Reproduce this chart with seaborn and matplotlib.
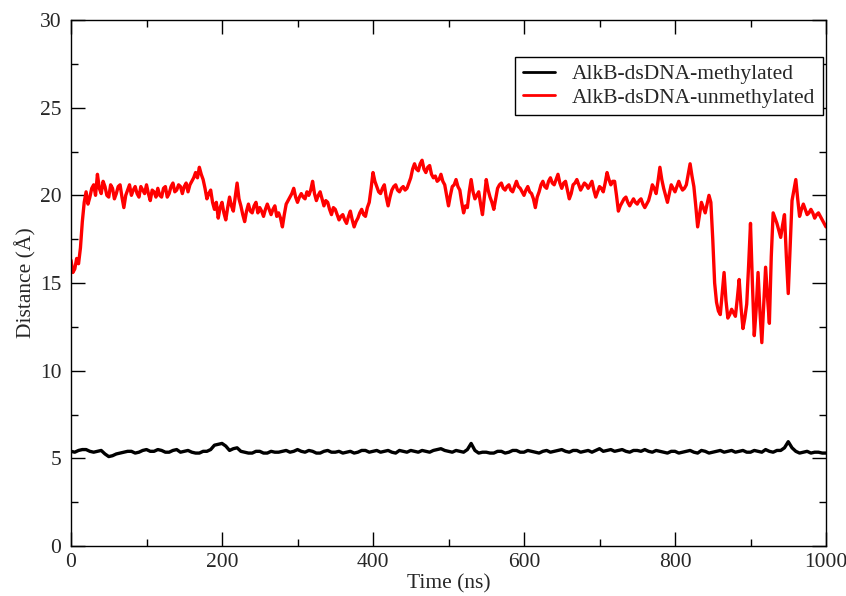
import numpy as np
import pandas as pd
import matplotlib
matplotlib.use("Agg")
import matplotlib.pyplot as plt
import seaborn as sns

# red trace: distance (A) every 5 ns
time_red = list(range(0, 1001, 5))
unmethylated = [
    16.3, 15.8, 16.1, 18.5, 20.2, 19.9, 20.6, 21.2, 20.1, 20.5,
    19.9, 20.4, 20.1, 20.6, 19.3, 20.3, 20.0, 20.5, 19.9, 20.3,
    20.6, 19.7, 20.2, 20.4, 19.9, 20.5, 20.1, 20.7, 20.3, 20.5,
    20.5, 20.2, 20.8, 21.3, 21.6, 20.9, 19.8, 20.3, 19.2, 18.7,
    19.6, 18.6, 19.9, 19.1, 20.7, 19.4, 18.5, 19.5, 19.0, 19.6,
    19.3, 18.8, 19.5, 18.9, 19.4, 19.0, 18.2, 19.5, 19.9, 20.4,
    19.6, 20.1, 19.8, 20.0, 20.8, 19.7, 20.2, 19.4, 19.6, 18.9,
    19.2, 18.6, 18.9, 18.4, 19.1, 18.2, 18.7, 19.2, 18.8, 19.6,
    21.3, 20.5, 20.1, 20.6, 19.4, 20.3, 20.6, 20.2, 20.5, 20.4,
    21.0, 21.8, 21.4, 22.0, 21.3, 21.7, 21.0, 20.8, 21.2, 20.6,
    19.4, 20.5, 20.9, 20.3, 19.0, 19.3, 20.9, 19.8, 20.2, 18.9,
    20.9, 19.9, 19.2, 20.4, 20.7, 20.3, 20.6, 20.2, 20.8, 20.4,
    20.0, 20.5, 20.1, 19.3, 20.2, 20.8, 20.4, 21.0, 20.6, 21.2,
    20.4, 20.8, 19.8, 20.6, 20.9, 20.3, 20.7, 20.4, 20.8, 19.9,
    20.5, 20.2, 21.3, 20.6, 20.8, 19.1, 19.6, 19.9, 19.4, 19.8,
    19.5, 19.8, 19.3, 19.7, 20.6, 20.1, 21.6, 20.4, 19.6, 20.6,
    20.2, 20.8, 20.3, 20.6, 21.8, 20.5, 18.2, 19.6, 19.0, 20.0,
    17.5, 13.9, 13.2, 15.6, 13.0, 13.5, 13.1, 15.2, 12.4, 13.8,
    18.4, 12.0, 15.6, 11.6, 15.9, 12.7, 19.0, 18.4, 17.6, 18.9,
    14.4, 19.7, 20.9, 18.8, 19.5, 18.9, 19.2, 18.7, 19.0, 18.6,
    18.2,
]
# in-between frames (2.5, 7.5, ... 997.5 ns)
time_red_mid = list(np.arange(2.5, 1000, 5))
unmethylated_mid = [
    15.6, 16.4, 17.0, 19.6, 19.5, 20.4, 20.0, 20.4, 20.8, 20.0,
    20.6, 19.8, 20.5, 19.9, 20.0, 20.6, 20.3, 20.1, 20.5, 20.1,
    20.1, 20.3, 19.9, 20.0, 20.4, 19.9, 20.5, 20.2, 20.6, 20.1,
    20.7, 20.6, 21.0, 21.0, 21.2, 20.4, 20.1, 19.6, 19.6, 19.3,
    19.0, 19.3, 19.4, 19.9, 19.8, 18.9, 19.1, 19.1, 19.4, 19.0,
    19.1, 19.2, 19.2, 19.2, 18.8, 18.7, 18.9, 19.7, 20.1, 19.9,
    19.9, 19.9, 20.2, 20.3, 20.1, 20.0, 19.8, 19.7, 19.2, 19.3,
    18.9, 18.8, 18.6, 18.8, 18.6, 18.5, 19.0, 18.9, 19.3, 20.4,
    20.8, 20.2, 20.4, 19.9, 19.9, 20.5, 20.3, 20.4, 20.3, 20.7,
    21.5, 21.5, 21.8, 21.5, 21.6, 21.2, 21.1, 20.9, 20.8, 20.0,
    20.0, 20.6, 20.5, 19.6, 19.4, 20.2, 20.2, 20.0, 19.5, 19.9,
    20.3, 19.6, 19.8, 20.6, 20.4, 20.5, 20.3, 20.5, 20.5, 20.2,
    20.3, 20.2, 19.8, 19.9, 20.6, 20.5, 20.8, 20.7, 20.9, 20.7,
    20.7, 20.3, 20.1, 20.7, 20.6, 20.5, 20.6, 20.6, 20.3, 20.2,
    20.4, 20.7, 20.9, 20.8, 20.0, 19.4, 19.8, 19.6, 19.6, 19.6,
    19.7, 19.5, 19.5, 20.1, 20.4, 20.8, 20.9, 20.0, 20.1, 20.4,
    20.5, 20.5, 20.4, 21.2, 21.1, 19.4, 18.9, 19.3, 19.5, 19.6,
    15.0, 13.4, 14.4, 14.0, 13.2, 13.3, 14.1, 13.6, 13.0, 16.0,
    15.0, 13.5, 13.4, 13.8, 14.2, 16.5, 18.7, 18.0, 18.3, 16.5,
    17.0, 20.3, 19.8, 19.2, 19.2, 19.0, 19.0, 18.9, 18.8, 18.4,
]

# black trace: distance (A) every 10 ns
time_black = list(range(0, 1001, 10))
methylated = [
    5.4, 5.45, 5.5, 5.35, 5.45, 5.1, 5.25, 5.35, 5.4, 5.35,
    5.5, 5.4, 5.45, 5.35, 5.5, 5.4, 5.35, 5.3, 5.4, 5.75,
    5.85, 5.45, 5.6, 5.35, 5.3, 5.4, 5.3, 5.35, 5.4, 5.35,
    5.5, 5.35, 5.4, 5.3, 5.45, 5.35, 5.3, 5.4, 5.35, 5.45,
    5.4, 5.35, 5.45, 5.3, 5.4, 5.45, 5.35, 5.4, 5.45, 5.55,
    5.4, 5.45, 5.35, 5.85, 5.3, 5.35, 5.3, 5.4, 5.35, 5.45,
    5.35, 5.4, 5.3, 5.45, 5.4, 5.5, 5.35, 5.45, 5.4, 5.35,
    5.55, 5.45, 5.4, 5.5, 5.35, 5.45, 5.5, 5.35, 5.4, 5.3,
    5.4, 5.35, 5.45, 5.3, 5.4, 5.35, 5.45, 5.4, 5.35, 5.45,
    5.35, 5.4, 5.5, 5.35, 5.45, 5.95, 5.4, 5.35, 5.3, 5.35,
    5.3,
]
time_black_mid = list(range(5, 1000, 10))
methylated_mid = [
    5.35, 5.5, 5.4, 5.4, 5.25, 5.15, 5.3, 5.4, 5.3, 5.45,
    5.4, 5.5, 5.35, 5.45, 5.35, 5.45, 5.3, 5.4, 5.5, 5.8,
    5.7, 5.55, 5.4, 5.3, 5.4, 5.3, 5.4, 5.35, 5.45, 5.4,
    5.4, 5.45, 5.3, 5.4, 5.35, 5.4, 5.35, 5.3, 5.45, 5.35,
    5.45, 5.4, 5.35, 5.45, 5.35, 5.4, 5.45, 5.35, 5.5, 5.45,
    5.35, 5.4, 5.5, 5.45, 5.35, 5.3, 5.4, 5.3, 5.45, 5.35,
    5.45, 5.35, 5.4, 5.35, 5.45, 5.4, 5.45, 5.35, 5.45, 5.45,
    5.4, 5.5, 5.45, 5.4, 5.45, 5.4, 5.4, 5.45, 5.35, 5.4,
    5.3, 5.4, 5.35, 5.45, 5.3, 5.4, 5.35, 5.45, 5.4, 5.35,
    5.45, 5.35, 5.4, 5.45, 5.6, 5.6, 5.3, 5.4, 5.35, 5.3,
]

labels = ["AlkB-dsDNA-methylated", "AlkB-dsDNA-unmethylated"]

df = pd.concat([
    pd.DataFrame({"time": time_black + time_black_mid,
                  "dist": methylated + methylated_mid, "system": labels[0]}),
    pd.DataFrame({"time": time_red + time_red_mid,
                  "dist": unmethylated + unmethylated_mid, "system": labels[1]}),
]).sort_values(["system", "time"])

sns.set_style("ticks")
plt.rcParams["font.family"] = ["Liberation Serif", "DejaVu Serif"]
plt.rcParams["font.size"] = 15.5

fig = plt.figure(figsize=(8.46, 5.96), dpi=100)
ax = fig.add_axes([71 / 846, 50 / 596, 755 / 846, 526 / 596])

sns.lineplot(data=df, x="time", y="dist", hue="system",
             palette={labels[0]: "black", labels[1]: "#ff0000"},
             linewidth=2.4, ax=ax, estimator=None, sort=False)

ax.set_xlim(0, 1000)
ax.set_ylim(0, 30)
ax.set_xticks(range(0, 1001, 200))
ax.set_xticks(range(0, 1001, 100), minor=True)
ax.set_yticks(range(0, 31, 5))
ax.set_yticks(np.arange(0, 30.1, 2.5), minor=True)
ax.tick_params(which="both", direction="in", top=True, right=True,
               width=1.0, color="black", labelsize=15.5)
ax.tick_params(which="major", length=10)
ax.tick_params(which="minor", length=5)
ax.tick_params(axis="y", pad=7)
ax.tick_params(axis="x", pad=5)
for s in ax.spines.values():
    s.set_linewidth(1.0)
    s.set_color("black")

ax.set_xlabel("Time (ns)", fontsize=15.5, labelpad=2)
ax.set_ylabel("Distance (Å)", fontsize=15.5, labelpad=2)

leg = ax.legend(loc="upper right", bbox_to_anchor=(0.996, 0.93),
                borderaxespad=0, fontsize=15.5, handlelength=1.5,
                handletextpad=0.8, borderpad=0.35, labelspacing=0.15,
                fancybox=False, framealpha=1, edgecolor="black")
leg.get_frame().set_linewidth(1.0)
for line in leg.get_lines():
    line.set_linewidth(2.0)

fig.savefig("out.png", dpi=100)
